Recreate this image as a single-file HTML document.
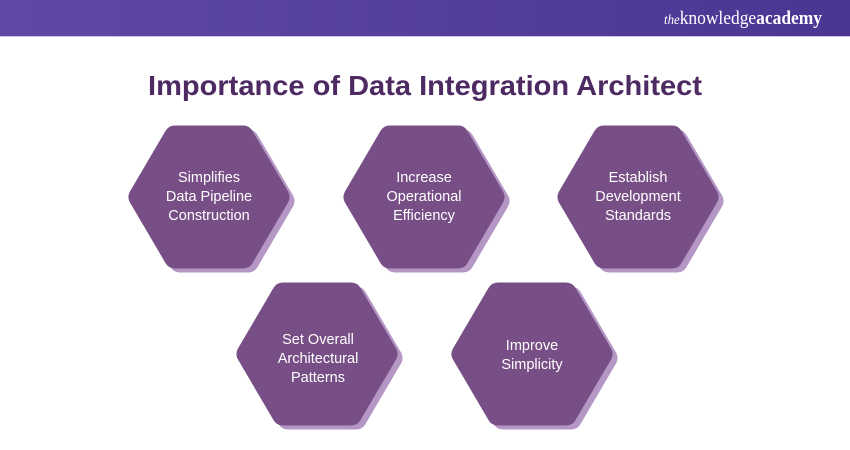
<!DOCTYPE html>
<html><head><meta charset="utf-8"><style>
html,body{margin:0;padding:0;background:#fff}
svg{display:block}
</style></head><body>
<svg width="850" height="450" viewBox="0 0 850 450" xmlns="http://www.w3.org/2000/svg" style="font-family:'Liberation Sans',sans-serif">
<defs>
<linearGradient id="hg" x1="0" x2="1" y1="0" y2="0">
<stop offset="0" stop-color="#6049a6"/><stop offset="1" stop-color="#4a3592"/>
</linearGradient>
<g id="hex"><path d="M-34,-60.5 L34,-60.5 L69.5,0 L34,60.5 L-34,60.5 L-69.5,0 Z" stroke-linejoin="round" stroke-width="22"/></g>
</defs>
<rect x="0" y="0" width="850" height="36" fill="url(#hg)"/>
<rect x="0" y="36" width="850" height="1" fill="#cfc6e4"/>
<text x="664" y="24" style="font-family:'Liberation Serif',serif" font-size="19" fill="#fff" textLength="158" lengthAdjust="spacingAndGlyphs"><tspan font-style="italic" font-size="14">the</tspan>knowledge<tspan font-weight="bold">academy</tspan></text>
<text x="148" y="95" font-size="28" font-weight="bold" fill="#4e2a63" textLength="554" lengthAdjust="spacingAndGlyphs">Importance of Data Integration Architect</text>
<g fill="#b597c6" stroke="#b597c6">
<use href="#hex" x="214" y="201"/><use href="#hex" x="429" y="201"/><use href="#hex" x="643" y="201"/>
<use href="#hex" x="322" y="358"/><use href="#hex" x="537" y="358"/>
</g>
<g fill="#774e86" stroke="#774e86">
<use href="#hex" x="209" y="197"/><use href="#hex" x="424" y="197"/><use href="#hex" x="638" y="197"/>
<use href="#hex" x="317" y="354"/><use href="#hex" x="532" y="354"/>
</g>
<g fill="#fff" font-size="14.5" text-anchor="middle">
<text x="209" y="182">Simplifies</text><text x="209" y="201">Data Pipeline</text><text x="209" y="220">Construction</text>
<text x="424" y="182">Increase</text><text x="424" y="201">Operational</text><text x="424" y="220">Efficiency</text>
<text x="638" y="182">Establish</text><text x="638" y="201">Development</text><text x="638" y="220">Standards</text>
<text x="318" y="344">Set Overall</text><text x="318" y="363">Architectural</text><text x="318" y="382">Patterns</text>
<text x="532" y="350">Improve</text><text x="532" y="369">Simplicity</text>
</g>
</svg>
</body></html>
